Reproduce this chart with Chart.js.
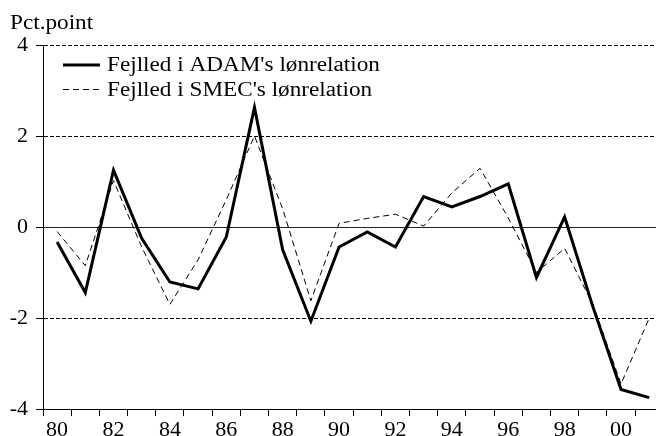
<!DOCTYPE html>
<html>
<head>
<meta charset="utf-8">
<script src="https://cdn.jsdelivr.net/npm/chart.js@4/dist/chart.umd.min.js"></script>
<style>
  html, body { margin: 0; padding: 0; background: #fff; }
  canvas { display: block; }
</style>
</head>
<body>
<canvas id="chart" width="656" height="436"></canvas>
<script>
// Fejlled i lønrelationerne, pct.point
const years = ["80", "81", "82", "83", "84", "85", "86", "87", "88", "89", "90",
  "91", "92", "93", "94", "95", "96", "97", "98", "99", "00", "01"]
const adam = [-0.33, -1.44, 1.25, -0.25, -1.21, -1.36, -0.22, 2.63, -0.5, -2.07, -0.44,
  -0.11, -0.44, 0.67, 0.44, 0.67, 0.95, -1.11, 0.22, -1.75, -3.57, -3.75]
const smec = [-0.1, -0.85, 1.02, -0.44, -1.7, -0.72, 0.6, 2.0, 0.4, -1.62, 0.08,
  0.19, 0.28, 0.02, 0.75, 1.29, 0.2, -1.0, -0.47, -1.7, -3.45, -2.0]
const yTicks = [-4, -2, 0, 2, 4]

const serif = "'Liberation Serif', 'Times New Roman', serif"

// teksten i originalen er lidt bredere end Times
function stretchedText(ctx, text, x, y, size) {
  ctx.save()
  ctx.font = size + "px " + serif
  ctx.fillStyle = "#000"
  ctx.textBaseline = "alphabetic"
  ctx.translate(x, y)
  ctx.scale(1.16, 1)
  ctx.fillText(text, 0, 0)
  ctx.restore()
}

const extras = {
  id: "extras",
  beforeDatasetsDraw(chart) {
    const { ctx, chartArea } = chart
    const y0 = chart.scales.y.getPixelForValue(0)
    ctx.save()
    ctx.strokeStyle = "#222"
    ctx.lineWidth = 1
    ctx.beginPath()
    ctx.moveTo(chartArea.left, Math.round(y0) + 0.5)
    ctx.lineTo(chartArea.right, Math.round(y0) + 0.5)
    ctx.stroke()
    ctx.restore()
  },
  afterDraw(chart) {
    const { ctx } = chart
    stretchedText(ctx, "Pct.point", 10, 29, 20)
    // legende inde i plottet
    chart.data.datasets.forEach((ds, i) => {
      const y = 65 + i * 24.5
      ctx.save()
      ctx.strokeStyle = "#000"
      ctx.lineWidth = ds.borderWidth
      ctx.setLineDash(ds.borderDash || [])
      ctx.beginPath()
      ctx.moveTo(63, y)
      ctx.lineTo(100, y)
      ctx.stroke()
      ctx.restore()
      stretchedText(ctx, ds.label, 107, y + 6, 20)
    })
  }
}

new Chart(document.getElementById("chart"), {
  type: "line",
  data: {
    datasets: [
      {
        label: "Fejlled i ADAM's lønrelation",
        data: adam.map((v, i) => ({ x: i, y: v })),
        borderColor: "#000",
        borderWidth: 3,
        pointRadius: 0,
        tension: 0,
      },
      {
        label: "Fejlled i SMEC's lønrelation",
        data: smec.map((v, i) => ({ x: i, y: v })),
        borderColor: "#000",
        borderWidth: 1,
        borderDash: [6, 4],
        pointRadius: 0,
        tension: 0,
      },
    ],
  },
  options: {
    responsive: false,
    animation: false,
    layout: { padding: { top: 45, left: 0, right: 0, bottom: 0 } },
    plugins: {
      legend: { display: false },
      tooltip: { enabled: false },
    },
    scales: {
      x: {
        type: "linear",
        min: -0.5,
        max: 21.24,
        afterBuildTicks: (scale) => {
          const t = []
          for (let v = -0.5; v <= 21; v += 0.5) t.push({ value: v })
          scale.ticks = t
        },
        afterFit: (scale) => { scale.height = 27 },
        ticks: {
          autoSkip: false,
          maxRotation: 0,
          padding: 1,
          color: "#000",
          font: { family: serif, size: 22 },
          callback: (v) => (Number.isInteger(v) && v % 2 === 0 ? years[v] : ""),
        },
        grid: {
          drawOnChartArea: false,
          tickLength: 7,
          color: (c) => (c.tick && !Number.isInteger(c.tick.value) ? "#000" : "rgba(0,0,0,0)"),
        },
        border: { color: "#000", width: 1 },
      },
      y: {
        min: -4,
        max: 4,
        afterBuildTicks: (scale) => { scale.ticks = yTicks.map((v) => ({ value: v })) },
        afterFit: (scale) => { scale.width = 43 },
        ticks: {
          padding: 8,
          color: "#000",
          font: { family: serif, size: 22 },
        },
        grid: {
          color: "#000",
          lineWidth: 1,
          tickLength: 7,
        },
        border: { color: "#000", width: 1, dash: [4, 2] },
      },
    },
  },
  plugins: [extras],
})
</script>
</body>
</html>
